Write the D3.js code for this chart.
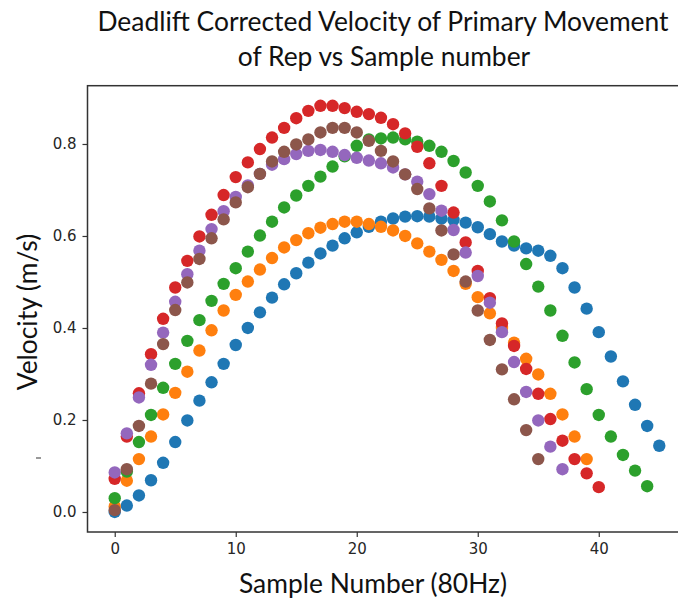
<!DOCTYPE html>
<html lang="en">
<head>
    <meta charset="UTF-8">
    <title>Deadlift Corrected Velocity</title>
    <script src="https://d3js.org/d3.v7.min.js"></script>
    <style>
        body { margin: 0; background: #fff; }
        .tick text { font-family: "DejaVu Sans", sans-serif; font-size: 15px; fill: #262626; }
        .tick line { stroke: #333; stroke-width: 1.2px; }
        .label { font-family: Lato, "Open Sans", sans-serif; fill: #111; font-size: 26.4px; }
    </style>
</head>
<body>
    <svg width="678" height="601"></svg>
    <script>
        // Velocity per sample, one array per rep (sample index = array index)
        const blue = [0.000, 0.014, 0.036, 0.069, 0.107, 0.152, 0.199, 0.242, 0.282, 0.322,
            0.363, 0.400, 0.434, 0.466, 0.495, 0.519, 0.542, 0.562, 0.579, 0.595,
            0.608, 0.620, 0.631, 0.638, 0.642, 0.643, 0.642, 0.638, 0.635, 0.629,
            0.619, 0.604, 0.588, 0.579, 0.573, 0.568, 0.557, 0.530, 0.488, 0.442,
            0.391, 0.338, 0.284, 0.233, 0.187, 0.144];
        const orange = [0.012, 0.068, 0.115, 0.164, 0.212, 0.259, 0.305, 0.351, 0.395, 0.438,
            0.472, 0.501, 0.527, 0.552, 0.575, 0.591, 0.606, 0.618, 0.626, 0.631,
            0.631, 0.626, 0.620, 0.612, 0.600, 0.584, 0.566, 0.548, 0.524, 0.496,
            0.467, 0.432, 0.400, 0.368, 0.333, 0.299, 0.257, 0.212, 0.164, 0.115];
        const green = [0.030, 0.088, 0.152, 0.211, 0.270, 0.322, 0.372, 0.417, 0.459, 0.496,
            0.530, 0.566, 0.601, 0.631, 0.662, 0.688, 0.709, 0.729, 0.751, 0.773,
            0.796, 0.810, 0.812, 0.814, 0.810, 0.805, 0.796, 0.783, 0.763, 0.738,
            0.709, 0.675, 0.634, 0.588, 0.539, 0.490, 0.438, 0.383, 0.325, 0.267,
            0.211, 0.164, 0.124, 0.090, 0.056];
        const red = [0.072, 0.164, 0.258, 0.343, 0.420, 0.488, 0.546, 0.599, 0.646, 0.689,
            0.728, 0.760, 0.789, 0.814, 0.835, 0.856, 0.872, 0.883, 0.883, 0.878,
            0.870, 0.865, 0.857, 0.843, 0.823, 0.794, 0.758, 0.709, 0.651, 0.586,
            0.524, 0.465, 0.410, 0.361, 0.311, 0.257, 0.202, 0.155, 0.115, 0.084,
            0.054];
        const purple = [0.086, 0.171, 0.249, 0.320, 0.390, 0.457, 0.517, 0.568, 0.615, 0.654,
            0.685, 0.710, 0.735, 0.755, 0.767, 0.778, 0.785, 0.787, 0.783, 0.776,
            0.770, 0.764, 0.758, 0.749, 0.734, 0.718, 0.691, 0.655, 0.613, 0.564,
            0.513, 0.455, 0.391, 0.326, 0.261, 0.199, 0.142, 0.093];
        const brown = [0.004, 0.093, 0.187, 0.279, 0.365, 0.439, 0.499, 0.550, 0.595, 0.636,
            0.673, 0.706, 0.735, 0.762, 0.783, 0.799, 0.810, 0.825, 0.835, 0.835,
            0.825, 0.807, 0.785, 0.762, 0.734, 0.702, 0.660, 0.612, 0.560, 0.501,
            0.438, 0.374, 0.310, 0.245, 0.178, 0.115];

        const series = [blue, orange, green, red, purple, brown];
        const colors = ["#1f77b4", "#ff7f0e", "#2ca02c", "#d62728", "#9467bd", "#8c564b"];

        const xTicks = [0, 10, 20, 30, 40];
        const yTicks = [0.0, 0.2, 0.4, 0.6, 0.8];

        const svg = d3.select("svg");

        // plot box (right side runs past the picture edge, as in the original)
        const boxL = 87.5, boxR = 686.5, boxT = 85.7, boxB = 532;

        const x = d3.scaleLinear().domain([-2.25, 47.25]).range([boxL, boxR]);
        const y = d3.scaleLinear().domain([-0.0435, 0.9267]).range([boxB, boxT]);

        // dots, drawn series by series so later reps sit on top
        series.forEach((vals, k) => {
            svg.append("g")
                .selectAll("circle")
                .data(vals)
                .enter().append("circle")
                .attr("cx", (d, i) => x(i))
                .attr("cy", d => y(d))
                .attr("r", 6.2)
                .attr("fill", colors[k]);
        });

        // frame
        svg.append("rect")
            .attr("x", boxL).attr("y", boxT)
            .attr("width", boxR - boxL).attr("height", boxB - boxT)
            .attr("fill", "none")
            .attr("stroke", "#333")
            .attr("stroke-width", 1.5);

        // axes
        const xAxis = svg.append("g")
            .attr("transform", `translate(0,${boxB})`)
            .call(d3.axisBottom(x).tickValues(xTicks).tickSize(5).tickPadding(6).tickFormat(d3.format("d")));
        xAxis.select(".domain").remove();

        const yAxis = svg.append("g")
            .attr("transform", `translate(${boxL},0)`)
            .call(d3.axisLeft(y).tickValues(yTicks).tickSize(5).tickPadding(6).tickFormat(d3.format(".1f")));
        yAxis.select(".domain").remove();

        // titles
        svg.append("text").attr("class", "label")
            .attr("x", 383).attr("y", 31)
            .attr("text-anchor", "middle")
            .text("Deadlift Corrected Velocity of Primary Movement");
        svg.append("text").attr("class", "label")
            .attr("x", 384).attr("y", 66)
            .attr("text-anchor", "middle")
            .text("of Rep vs Sample number");

        svg.append("text").attr("class", "label")
            .attr("x", 373).attr("y", 593)
            .attr("text-anchor", "middle")
            .text("Sample Number (80Hz)");

        svg.append("text").attr("class", "label")
            .attr("transform", "translate(37,312) rotate(-90)")
            .attr("text-anchor", "middle")
            .text("Velocity (m/s)");

        // small stray dash left of the axis in the source image
        svg.append("line")
            .attr("x1", 36).attr("x2", 41)
            .attr("y1", 458).attr("y2", 458)
            .attr("stroke", "#555").attr("stroke-width", 1.2);
    </script>
</body>
</html>
